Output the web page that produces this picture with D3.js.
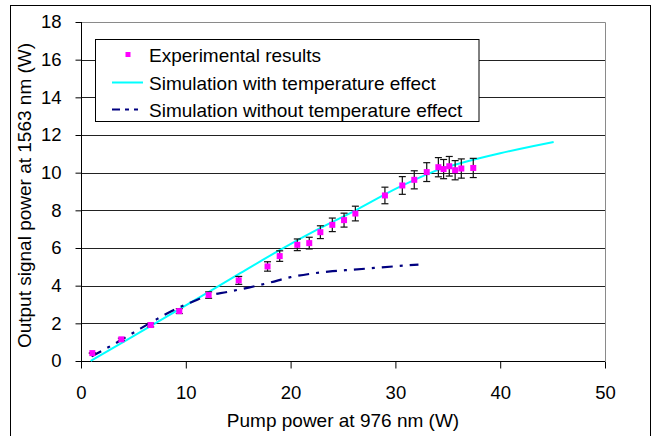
<!DOCTYPE html>
<html>
<head>
<meta charset="utf-8">
<script src="https://cdn.jsdelivr.net/npm/d3@7"></script>
<style>
  body { margin: 0; background: #fff; }
  svg { display: block; font-family: "Liberation Sans", Arial, sans-serif; }
</style>
</head>
<body>
<svg id="chart" width="656" height="436"></svg>
<script>
// ---- Data ----
const expX = [1.08, 3.85, 6.65, 9.38, 12.18, 15.05, 17.8, 18.96, 20.64, 21.78, 22.84, 23.98, 25.1, 26.18, 29.0, 30.66, 31.8, 32.99, 34.1, 34.6, 35.14, 35.7, 36.29, 37.43];
const expY = [0.42, 1.15, 1.91, 2.65, 3.5, 4.28, 5.02, 5.57, 6.17, 6.26, 6.84, 7.23, 7.48, 7.83, 8.79, 9.32, 9.62, 10.03, 10.29, 10.19, 10.34, 10.13, 10.22, 10.25];
const expErr = [0.02, 0.06, 0.1, 0.13, 0.17, 0.21, 0.25, 0.28, 0.31, 0.31, 0.34, 0.36, 0.37, 0.39, 0.44, 0.47, 0.48, 0.5, 0.51, 0.51, 0.52, 0.51, 0.51, 0.51];

const withTempX = [0.93, 5, 10, 15, 19, 22.8, 26.3, 30.2, 34.1, 36.8, 40, 43.2, 45.1];
const withTempY = [0, 1.32, 2.95, 4.6, 5.9, 7.05, 8.03, 9.19, 10.15, 10.59, 11.03, 11.42, 11.63];

const noTempX = [1, 3, 5, 7, 9, 10.7, 12, 14, 16, 18, 20, 22, 24, 26, 28, 30, 32.2];
const noTempY = [0.25, 0.85, 1.5, 2.15, 2.75, 3.16, 3.45, 3.67, 3.9, 4.16, 4.45, 4.64, 4.77, 4.85, 4.94, 5.03, 5.12];

const xTicks = [0, 10, 20, 30, 40, 50];
const yTicks = [0, 2, 4, 6, 8, 10, 12, 14, 16, 18];

const legendLabels = ["Experimental results", "Simulation with temperature effect", "Simulation without temperature effect"];
const xTitle = "Pump power at 976 nm (W)";
const yTitle = "Output signal power at 1563 nm (W)";

// ---- Drawing ----
const svg = d3.select("#chart");
const L = 81, R = 605, T = 22, B = 361;
const x = d3.scaleLinear().domain([0, 50]).range([L, R]);
const y = d3.scaleLinear().domain([0, 18]).range([B, T]);

// outer chart border
svg.append("rect").attr("x", 10.5).attr("y", 5.5).attr("width", 640).attr("height", 440)
  .attr("fill", "none").attr("stroke", "#000").attr("stroke-width", 1);

// gridlines
svg.append("g").selectAll("line").data(yTicks.filter(d => d > 0 && d < 18)).join("line")
  .attr("x1", L).attr("x2", R)
  .attr("y1", d => Math.round(y(d)) + 0.5).attr("y2", d => Math.round(y(d)) + 0.5)
  .attr("stroke", "#222").attr("stroke-width", 1);

// plot-area top and right border (gray)
svg.append("path")
  .attr("d", `M${L},${Math.round(y(18)) + 0.5}H${R + 0.5}V${B}`)
  .attr("fill", "none").attr("stroke", "#8a8a8a").attr("stroke-width", 1);

// axes
const xAxis = d3.axisBottom(x).tickValues(xTicks).tickSize(7).tickPadding(17).tickFormat(d3.format("d"));
const gx = svg.append("g").attr("transform", `translate(0,${B + 0.5})`).call(xAxis);
gx.select(".domain").attr("stroke", "#000").attr("d", `M${L},0H${R}`);
gx.selectAll(".tick line").attr("stroke", "#000");
gx.selectAll(".tick text").attr("font-size", 18.5).attr("fill", "#000")
  .attr("font-family", "Liberation Sans, Arial, sans-serif");

const yAxis = d3.axisLeft(y).tickValues(yTicks).tickSize(6).tickPadding(14).tickFormat(d3.format("d"));
const gy = svg.append("g").attr("transform", `translate(${L + 0.5},0)`).call(yAxis);
gy.select(".domain").attr("stroke", "#000").attr("d", `M0,${T}V${B}`);
gy.selectAll(".tick line").attr("stroke", "#000");
gy.selectAll(".tick text").attr("font-size", 18.5).attr("fill", "#000")
  .attr("font-family", "Liberation Sans, Arial, sans-serif");

// axis titles
svg.append("text").attr("x", (L + R) / 2).attr("y", 427).attr("text-anchor", "middle")
  .attr("font-size", 19).attr("fill", "#000").text(xTitle);
svg.append("text").attr("transform", `translate(31,${(T + B) / 2 + 4}) rotate(-90)`)
  .attr("text-anchor", "middle").attr("font-size", 19).attr("fill", "#000").text(yTitle);

// simulation curves
const line = d3.line().x(d => x(d[0])).y(d => y(d[1])).curve(d3.curveMonotoneX);
const withTemp = withTempX.map((v, i) => [v, withTempY[i]]);
const noTemp = noTempX.map((v, i) => [v, noTempY[i]]);

svg.append("path").datum(withTemp).attr("d", line)
  .attr("fill", "none").attr("stroke", "#00FFFF").attr("stroke-width", 2);
svg.append("path").datum(noTemp).attr("d", line)
  .attr("fill", "none").attr("stroke", "#000080").attr("stroke-width", 2.2)
  .attr("stroke-dasharray", "11,7,3,7");

// experimental points with error bars
const exp = expX.map((v, i) => ({ x: v, y: expY[i], e: expErr[i] }));
const eg = svg.append("g");
const pts = eg.selectAll("g").data(exp).join("g");
pts.append("line")
  .attr("x1", d => x(d.x)).attr("x2", d => x(d.x))
  .attr("y1", d => y(d.y - d.e)).attr("y2", d => y(d.y + d.e))
  .attr("stroke", "#111").attr("stroke-width", 1.2);
pts.append("line")
  .attr("x1", d => x(d.x) - 3.5).attr("x2", d => x(d.x) + 3.5)
  .attr("y1", d => y(d.y + d.e)).attr("y2", d => y(d.y + d.e))
  .attr("stroke", "#111").attr("stroke-width", 1.2);
pts.append("line")
  .attr("x1", d => x(d.x) - 3.5).attr("x2", d => x(d.x) + 3.5)
  .attr("y1", d => y(d.y - d.e)).attr("y2", d => y(d.y - d.e))
  .attr("stroke", "#111").attr("stroke-width", 1.2);
pts.append("rect")
  .attr("x", d => x(d.x) - 3).attr("y", d => y(d.y) - 3)
  .attr("width", 6).attr("height", 6).attr("fill", "#FF00FF");

// legend
const lg = svg.append("g");
lg.append("rect").attr("x", 95.5).attr("y", 39.5).attr("width", 383.5).attr("height", 82)
  .attr("fill", "#fff").attr("stroke", "#000").attr("stroke-width", 1);
const rowY = [54.5, 82.5, 109.5];
lg.append("rect").attr("x", 125.5).attr("y", rowY[0] - 2.5).attr("width", 5).attr("height", 5).attr("fill", "#FF00FF");
lg.append("line").attr("x1", 112).attr("x2", 143).attr("y1", rowY[1]).attr("y2", rowY[1])
  .attr("stroke", "#00FFFF").attr("stroke-width", 2);
lg.append("line").attr("x1", 112).attr("x2", 143).attr("y1", rowY[2]).attr("y2", rowY[2])
  .attr("stroke", "#000080").attr("stroke-width", 2).attr("stroke-dasharray", "8,5,4,5,4,5");
lg.selectAll("text.leg").data(legendLabels).join("text").attr("class", "leg")
  .attr("x", 149).attr("y", (d, i) => rowY[i] + 7)
  .attr("font-size", 19).attr("fill", "#000").text(d => d);
</script>
</body>
</html>
